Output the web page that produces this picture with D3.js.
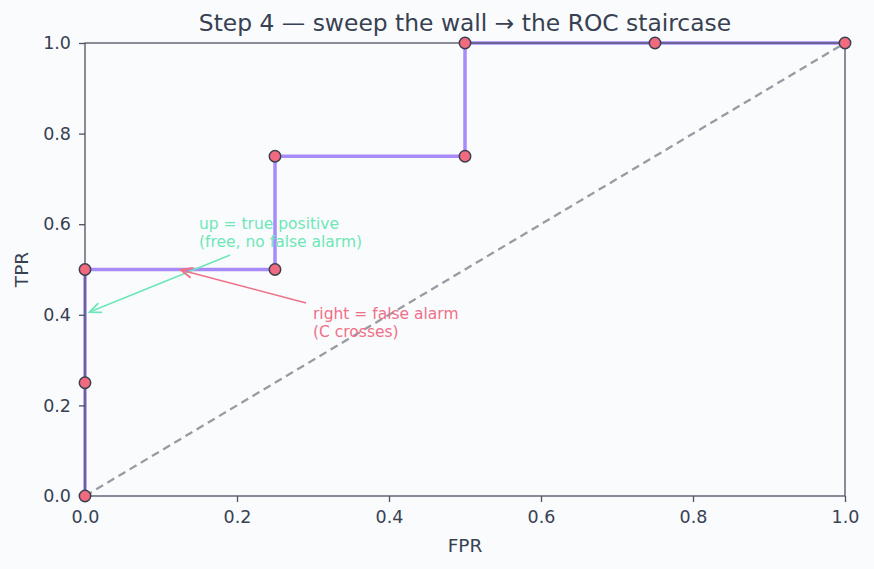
<!DOCTYPE html>
<html>
<head>
<meta charset="utf-8">
<script src="https://cdn.jsdelivr.net/npm/d3@7"></script>
<style>
body{margin:0;background:#fafbfd;}
text{font-family:"DejaVu Sans",sans-serif;}
</style>
</head>
<body>
<div id="roc"></div>
<script>
// ROC staircase points
var fpr=[0,0,0,0.25,0.25,0.5,0.5,0.75,1];
var tpr=[0,0.25,0.5,0.5,0.75,0.75,1,1,1];
var ticks=[0,0.2,0.4,0.6,0.8,1.0];

var data=fpr.map(function(f,i){return {x:f,y:tpr[i]};});

var W=874,H=569;
var margin={top:43,right:29,bottom:73,left:85};
var width=W-margin.left-margin.right,
    height=H-margin.top-margin.bottom;

var svg=d3.select("#roc").append("svg")
    .attr("width",W).attr("height",H)
    .style("background","#fafbfd");

var g=svg.append("g")
    .attr("transform","translate("+margin.left+","+margin.top+")");

var x=d3.scaleLinear().domain([0,1]).range([0,width]);
var y=d3.scaleLinear().domain([0,1]).range([height,0]);

var axisCol="#4b5160", txtCol="#374151";

// chance diagonal
g.append("line")
    .attr("x1",x(0)).attr("y1",y(0)).attr("x2",x(1)).attr("y2",y(1))
    .style("stroke","#979ca3").style("stroke-width",2.3)
    .style("stroke-dasharray","8,5");

const line=d3.line()
    .x(function(d){return x(d.x);})
    .y(function(d){return y(d.y);});

g.append("path")
    .data([data])
    .attr("d",line)
    .style("fill","none")
    .style("stroke","#a78bfa")
    .style("stroke-width","3.5px");

// frame
g.append("rect").attr("width",width).attr("height",height)
    .style("fill","none").style("stroke",axisCol).style("stroke-width",1.3);

var ax=g.append("g").attr("transform","translate(0,"+height+")")
    .call(d3.axisBottom(x).tickValues(ticks).tickFormat(d3.format(".1f")).tickSize(6).tickPadding(9));
var ay=g.append("g")
    .call(d3.axisLeft(y).tickValues(ticks).tickFormat(d3.format(".1f")).tickSize(6).tickPadding(8));
[ax,ay].forEach(function(a){
    a.attr("font-size",null).attr("font-family",null);
    a.select(".domain").remove();
    a.selectAll("line").style("stroke",axisCol).style("stroke-width",1.3);
    a.selectAll("text").style("font-size","17.5px").style("fill",txtCol);
});

// points
g.selectAll("circle").data(data).enter().append("circle")
    .attr("cx",function(d){return x(d.x);})
    .attr("cy",function(d){return y(d.y);})
    .attr("r",5.7)
    .style("fill","#f06b80")
    .style("stroke","#3b3f4e")
    .style("stroke-width",1.5);

// arrowheads
var defs=svg.append("defs");
[["g","#6ee7b7"],["p","#f07088"]].forEach(function(m){
    defs.append("marker").attr("id","ah"+m[0])
        .attr("viewBox","0 0 10 10").attr("refX",9).attr("refY",5)
        .attr("markerWidth",9).attr("markerHeight",9).attr("orient","auto")
        .append("path").attr("d","M1,1.5 L9,5 L1,8.5")
        .style("fill","none").style("stroke",m[1]).style("stroke-width",1.3);
});

// annotations
var notes=[
  {lines:["up = true positive","(free, no false alarm)"],tx:0.15,ty:0.55,sx:0.191,sy:0.532,ex:0.006,ey:0.406,col:"#6ee7b7",m:"g"},
  {lines:["right = false alarm","(C crosses)"],tx:0.30,ty:0.35,sx:0.291,sy:0.426,ex:0.126,ey:0.499,col:"#f07088",m:"p"}
];
notes.forEach(function(n){
    g.append("line")
      .attr("x1",x(n.sx)).attr("y1",y(n.sy)).attr("x2",x(n.ex)).attr("y2",y(n.ey))
      .style("stroke",n.col).style("stroke-width",1.6)
      .attr("marker-end","url(#ah"+n.m+")");
    var t=g.append("text").style("font-size","15.5px").style("fill",n.col);
    n.lines.forEach(function(l,i){
        t.append("tspan").attr("x",x(n.tx))
          .attr("y",y(n.ty)-(n.lines.length-1-i)*18).text(l);
    });
});

// labels
svg.append("text").attr("x",margin.left+width/2).attr("y",31)
    .attr("text-anchor","middle").style("font-size","23.4px").style("fill",txtCol)
    .text("Step 4 \u2014 sweep the wall \u2192 the ROC staircase");
svg.append("text").attr("x",margin.left+width/2).attr("y",552)
    .attr("text-anchor","middle").style("font-size","18.5px").style("fill",txtCol)
    .text("FPR");
svg.append("text").attr("transform","translate(28,"+(margin.top+height/2)+") rotate(-90)")
    .attr("text-anchor","middle").style("font-size","18.5px").style("fill",txtCol)
    .text("TPR");
</script>
</body>
</html>
